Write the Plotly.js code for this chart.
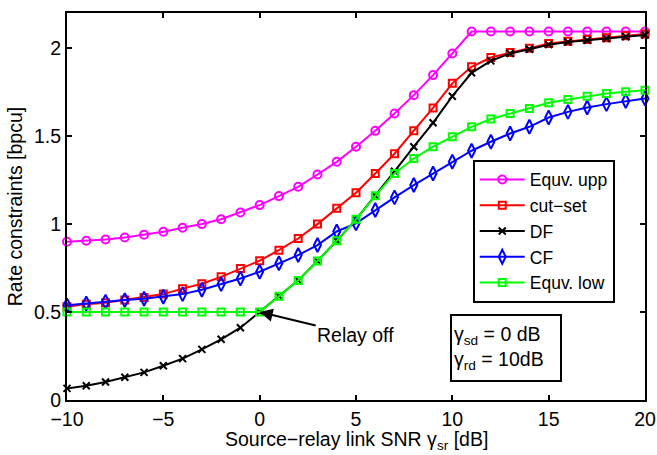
<!DOCTYPE html>
<html>
<head>
<meta charset="utf-8">
<script src="https://cdn.plot.ly/plotly-3.0.1.min.js"></script>
<style>html,body{margin:0;padding:0;background:#fff;}#chart{width:657px;height:455px;}</style>
</head>
<body>
<div id="chart"></div>
<script>
const snr = [-10,-9,-8,-7,-6,-5,-4,-3,-2,-1,0,1,2,3,4,5,6,7,8,9,10,11,12,13,14,15,16,17,18,19,20];
const equvUpp = [0.90,0.905,0.912,0.924,0.94,0.956,0.979,1.0,1.028,1.066,1.108,1.159,1.212,1.282,1.354,1.44,1.53,1.629,1.733,1.847,1.97,2.095,2.095,2.095,2.095,2.095,2.095,2.095,2.095,2.095,2.095];
const cutSet = [0.53,0.545,0.553,0.568,0.583,0.602,0.633,0.661,0.70,0.748,0.792,0.852,0.918,1.0,1.09,1.178,1.288,1.40,1.531,1.66,1.80,1.894,1.947,1.975,2.0,2.026,2.04,2.05,2.06,2.07,2.08];
const df = [0.066,0.081,0.102,0.129,0.157,0.195,0.235,0.288,0.345,0.411,0.5,0.59,0.68,0.79,0.905,1.027,1.161,1.30,1.44,1.576,1.727,1.86,1.928,1.97,1.994,2.02,2.035,2.045,2.055,2.065,2.075];
const cf = [0.538,0.549,0.559,0.568,0.576,0.587,0.602,0.627,0.659,0.691,0.729,0.777,0.824,0.881,0.958,1.004,1.08,1.152,1.222,1.288,1.354,1.417,1.468,1.515,1.553,1.606,1.638,1.663,1.682,1.70,1.714];
const equvLow = [0.5,0.5,0.5,0.5,0.5,0.5,0.5,0.5,0.5,0.5,0.5,0.59,0.68,0.79,0.905,1.027,1.161,1.288,1.373,1.44,1.496,1.553,1.597,1.629,1.657,1.69,1.708,1.727,1.742,1.752,1.761];
const seriesNames = ["Equv. upp","cut\u2212set","DF","CF","Equv. low"];
const xTicks = [-10,-5,0,5,10,15,20];
const xTickText = ["\u221210","\u22125","0","5","10","15","20"];
const yTicks = [0,0.5,1,1.5,2];
const yTickText = ["0","0.5","1","1.5","2"];

const FONT = "Liberation Sans, Arial, Helvetica, sans-serif";
const FS = 19.5;
function tr(y, name, color, symbol, size){
  return {x: snr, y: y, name: name, type: 'scatter', mode: 'lines+markers', cliponaxis: false,
    line: {color: color, width: 2},
    marker: {symbol: symbol, size: size, color: color, line: {color: color, width: 2}}};
}
const data = [
  tr(equvUpp, seriesNames[0], '#ff00ff', 'circle-open', 8),
  tr(cutSet, seriesNames[1], '#ff0000', 'square-open', 7),
  tr(df, seriesNames[2], '#000000', 'x-thin-open', 7),
  tr(cf, seriesNames[3], '#0000ff', 'diamond-tall-open', 10),
  tr(equvLow, seriesNames[4], '#00ff00', 'square-open', 7)
];
const axisCommon = {showline: true, linecolor: '#000', linewidth: 2, mirror: 'ticks', ticks: 'inside',
  ticklen: 5, tickwidth: 2, tickcolor: '#000', showgrid: false, zeroline: false,
  tickfont: {family: FONT, size: FS, color: '#000'}};
const layout = {
  width: 657, height: 455,
  margin: {l: 67, r: 12, t: 13, b: 55},
  paper_bgcolor: '#fff', plot_bgcolor: '#fff',
  font: {family: FONT, size: FS, color: '#000'},
  xaxis: Object.assign({}, axisCommon, {range: [-10, 20], tickvals: xTicks, ticktext: xTickText,
    ticklabelstandoff: 1}),
  yaxis: Object.assign({}, axisCommon, {range: [0, 2.2], tickvals: yTicks, ticktext: yTickText,
    title: {text: 'Rate constraints [bpcu]', font: {family: FONT, size: FS}, standoff: 6}}),
  showlegend: true,
  legend: {x: 0.702, y: 0.621, xanchor: 'left', yanchor: 'top', bgcolor: '#fff',
    bordercolor: '#000', borderwidth: 2, font: {family: FONT, size: 17.5, color: '#000'},
    itemwidth: 45, tracegroupgap: 0},
  annotations: [
    {x: 0.5, y: 0, xref: 'paper', yref: 'paper', yanchor: 'top', yshift: -27, showarrow: false,
     text: 'Source\u2212relay link SNR \u03b3<sub>sr</sub> [dB]', borderpad: 0,
     font: {family: FONT, size: FS, color: '#000'}},
    {x: 0, y: 0.5, xref: 'x', yref: 'y', text: 'Relay off', showarrow: true,
     ax: 96, ay: 23, arrowhead: 2, arrowsize: 1.3, arrowwidth: 2, arrowcolor: '#000',
     font: {family: FONT, size: FS, color: '#000'}},
    {x: 0.759, y: 0.134, xref: 'paper', yref: 'paper', xanchor: 'center', yanchor: 'middle',
     showarrow: false, align: 'left',
     text: '\u03b3<sub>sd</sub> = 0 dB<br>\u03b3<sub>rd</sub> = 10dB',
     bordercolor: '#000', borderwidth: 2, bgcolor: '#fff', borderpad: 2,
     width: 104, height: 60,
     font: {family: FONT, size: FS, color: '#000'}}
  ]
};
Plotly.newPlot('chart', data, layout, {displayModeBar: false, staticPlot: true});
</script>
</body>
</html>
